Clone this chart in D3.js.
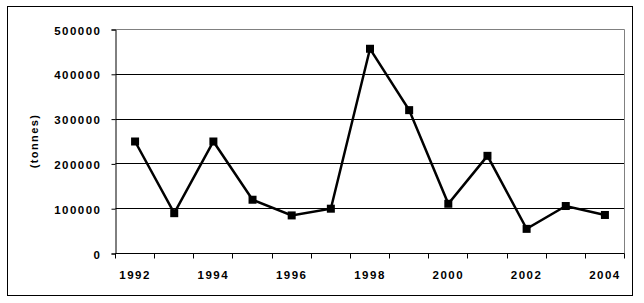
<!DOCTYPE html>
<html>
<head>
<meta charset="utf-8">
<script src="https://cdn.jsdelivr.net/npm/d3@7"></script>
<style>
  body { margin: 0; background: #fff; }
  text { font-family: "Liberation Sans", Arial, sans-serif; font-weight: bold; }
</style>
</head>
<body>
<div class="canvas"></div>
<script>
const svgWidth = 644;
const svgHeight = 303;

// data
const years = ['1992', '1993', '1994', '1995', '1996', '1997', '1998',
               '1999', '2000', '2001', '2002', '2003', '2004'];
const tonnes = [250000, 90000, 250000, 120000, 85000, 100000, 457000,
                320000, 111000, 218000, 55000, 106000, 86000];
const yTicks = [0, 100000, 200000, 300000, 400000, 500000];

const svg = d3.select('.canvas')
    .append('svg')
    .attr('width', svgWidth)
    .attr('height', svgHeight);

// outer frame
svg.append('rect')
    .attr('x', 7.5).attr('y', 6.5)
    .attr('width', 625).attr('height', 289)
    .attr('fill', 'none')
    .attr('stroke', '#000')
    .attr('stroke-width', 1);

const margin = { top: 29, right: 20, bottom: 50, left: 115 };
const graphWidth = 624 - margin.left;
const graphHeight = 253 - margin.top;

const graph = svg.append('g')
    .attr('transform', `translate(${margin.left + 0.5}, ${margin.top + 0.5})`);

const x = d3.scaleBand()
    .domain(years)
    .range([0, graphWidth]);

const y = d3.scaleLinear()
    .domain([0, 500000])
    .range([graphHeight, 0]);

// gridlines
graph.selectAll('line.grid')
    .data(yTicks.filter(d => d > 0))
    .enter()
    .append('line')
        .attr('class', 'grid')
        .attr('x1', 0)
        .attr('x2', graphWidth)
        .attr('y1', d => Math.round(y(d)))
        .attr('y2', d => Math.round(y(d)))
        .attr('stroke', d => d === 500000 ? '#808080' : '#000')
        .attr('stroke-width', 1);

// right border of plot area
graph.append('line')
    .attr('x1', graphWidth).attr('x2', graphWidth)
    .attr('y1', 0).attr('y2', graphHeight)
    .attr('stroke', '#808080');

// y axis
const yAxis = d3.axisLeft(y)
    .tickValues(yTicks)
    .tickSize(4)
    .tickPadding(10)
    .tickFormat(d => d);
const yAxisGroup = graph.append('g').call(yAxis);
yAxisGroup.select('.domain').attr('stroke', '#000');
yAxisGroup.selectAll('text')
    .attr('font-size', 11.5)
    .attr('letter-spacing', 1.5)
    .attr('fill', '#000')
    .attr('dy', '0.4em');

// x axis: ticks at category boundaries, labels every second year
const xAxisGroup = graph.append('g')
    .attr('transform', `translate(0, ${graphHeight})`);
xAxisGroup.append('line')
    .attr('x1', 0).attr('x2', graphWidth)
    .attr('stroke', '#000');
const bounds = years.map(d => x(d)).concat([graphWidth]);
xAxisGroup.selectAll('line.tick')
    .data(bounds)
    .enter()
    .append('line')
        .attr('class', 'tick')
        .attr('x1', d => Math.round(d)).attr('x2', d => Math.round(d))
        .attr('y1', 0).attr('y2', 5)
        .attr('stroke', '#000');
xAxisGroup.selectAll('text')
    .data(years.filter((d, i) => i % 2 === 0))
    .enter()
    .append('text')
        .attr('x', d => x(d) + x.bandwidth() / 2)
        .attr('y', 25)
        .attr('text-anchor', 'middle')
        .attr('font-size', 11.5)
        .attr('letter-spacing', 1.5)
        .text(d => d);

// y axis title
svg.append('text')
    .attr('transform', `translate(38, ${(margin.top + 253) / 2}) rotate(-90)`)
    .attr('text-anchor', 'middle')
    .attr('font-size', 11)
    .attr('letter-spacing', 1.4)
    .text('(tonnes)');

// line + markers
const line = d3.line()
    .x((d, i) => x(years[i]) + x.bandwidth() / 2)
    .y(d => y(d));

graph.append('path')
    .datum(tonnes)
    .attr('d', line)
    .attr('fill', 'none')
    .attr('stroke', '#000')
    .attr('stroke-width', 2.5);

graph.selectAll('rect.marker')
    .data(tonnes)
    .enter()
    .append('rect')
        .attr('class', 'marker')
        .attr('x', (d, i) => x(years[i]) + x.bandwidth() / 2 - 4)
        .attr('y', d => y(d) - 4)
        .attr('width', 8)
        .attr('height', 8)
        .attr('fill', '#000');
</script>
</body>
</html>
